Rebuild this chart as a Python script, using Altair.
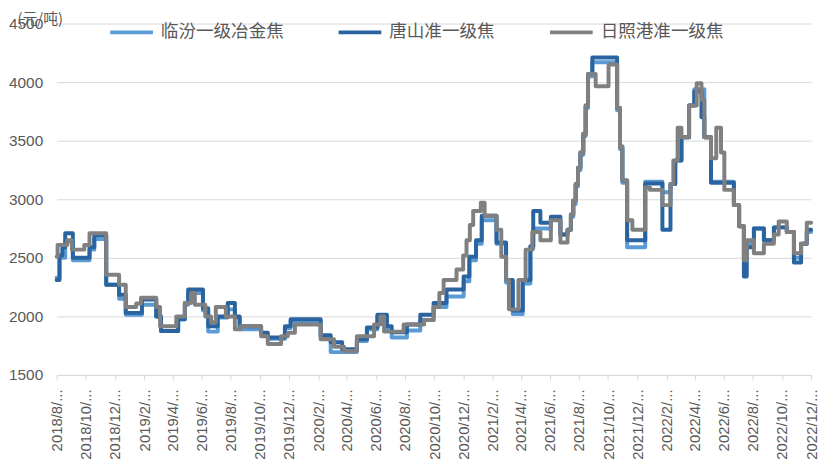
import altair as alt
import pandas as pd

series_names = ["临汾一级冶金焦", "唐山准一级焦", "日照港准一级焦"]
series_colors = ["#5b9bd5", "#2a64a0", "#808080"]

# 临汾一级冶金焦 (price change points)
linfen_dates = [
    "2018/08/01", "2018/08/07", "2018/08/19", "2018/09/04", "2018/10/09", "2018/10/19", "2018/11/13",
    "2018/12/10", "2018/12/24", "2019/01/27", "2019/02/26", "2019/03/08", "2019/04/13", "2019/04/27",
    "2019/05/04", "2019/06/04", "2019/06/15", "2019/07/05", "2019/07/26", "2019/08/10", "2019/08/20",
    "2019/10/04", "2019/10/18", "2019/11/23", "2019/12/05", "2020/02/06", "2020/02/27", "2020/04/22",
    "2020/05/13", "2020/06/04", "2020/06/24", "2020/07/04", "2020/08/05", "2020/09/02", "2020/09/30",
    "2020/10/27", "2020/12/02", "2020/12/14", "2020/12/28", "2021/01/09", "2021/02/09", "2021/03/01",
    "2021/03/15", "2021/04/05", "2021/04/21", "2021/04/27", "2021/06/03", "2021/06/23", "2021/07/08",
    "2021/07/15", "2021/07/20", "2021/07/25", "2021/07/30", "2021/08/04", "2021/08/10", "2021/08/15",
    "2021/08/20", "2021/08/29", "2021/10/20", "2021/10/26", "2021/10/31", "2021/11/10", "2021/12/18",
    "2022/01/23", "2022/02/09", "2022/02/19", "2022/03/04", "2022/03/20", "2022/03/31", "2022/04/21",
    "2022/05/05", "2022/06/22", "2022/07/03", "2022/07/13", "2022/07/19", "2022/08/03", "2022/08/24",
    "2022/09/14", "2022/10/11", "2022/10/26", "2022/11/10", "2022/11/22", "2022/12/01",
]
linfen_values = [
    2330, 2500, 2640, 2480, 2570, 2660, 2270,
    2150, 2015, 2100, 2000, 1875, 1975, 2100,
    2200, 2050, 1870, 1990, 2060, 1990, 1890,
    1850, 1810, 1900, 1960, 1820, 1695, 1790,
    1890, 2000, 1880, 1820, 1880, 1970, 2080,
    2170, 2300, 2480, 2620, 2820, 2620, 2290,
    2020, 2280, 2580, 2750, 2830, 2700, 2740,
    2850, 2960, 3110, 3250, 3380, 3540, 3780,
    4050, 4170, 3760, 3430, 3140, 2590, 3150,
    3060, 3130, 3330, 3530, 3800, 3940, 3530,
    3150, 2950, 2770, 2480, 2620, 2750, 2650,
    2760, 2720, 2500, 2620, 2720, 2720,
]

# 唐山准一级焦
tangshan_dates = [
    "2018/08/01", "2018/08/07", "2018/08/13", "2018/08/19", "2018/09/04", "2018/10/09", "2018/10/19",
    "2018/11/13", "2018/12/10", "2018/12/24", "2019/01/27", "2019/02/26", "2019/03/08", "2019/04/13",
    "2019/04/27", "2019/05/04", "2019/06/04", "2019/06/15", "2019/07/05", "2019/07/26", "2019/08/10",
    "2019/08/20", "2019/10/04", "2019/10/18", "2019/11/23", "2019/12/05", "2020/02/06", "2020/02/27",
    "2020/03/22", "2020/04/22", "2020/05/13", "2020/06/04", "2020/06/24", "2020/07/04", "2020/08/05",
    "2020/09/02", "2020/09/30", "2020/10/27", "2020/12/02", "2020/12/14", "2020/12/28", "2021/01/09",
    "2021/02/09", "2021/03/01", "2021/03/15", "2021/04/05", "2021/04/21", "2021/04/27", "2021/05/12",
    "2021/06/03", "2021/06/23", "2021/07/08", "2021/07/15", "2021/07/20", "2021/07/25", "2021/07/30",
    "2021/08/04", "2021/08/10", "2021/08/15", "2021/08/20", "2021/08/29", "2021/10/20", "2021/10/26",
    "2021/10/31", "2021/11/10", "2021/12/18", "2022/01/23", "2022/02/09", "2022/02/19", "2022/03/04",
    "2022/03/20", "2022/03/31", "2022/04/15", "2022/04/21", "2022/05/05", "2022/06/22", "2022/07/03",
    "2022/07/13", "2022/07/19", "2022/08/03", "2022/08/24", "2022/09/14", "2022/10/11", "2022/10/26",
    "2022/11/10", "2022/11/22", "2022/12/01",
]
tangshan_values = [
    2310, 2520, 2590, 2710, 2500, 2590, 2695,
    2270, 2185, 2030, 2145, 2000, 1875, 1975,
    2115, 2230, 2070, 1915, 2000, 2115, 2000,
    1915, 1860, 1820, 1915, 1975, 1840, 1780,
    1720, 1805, 1905, 2015, 1915, 1865, 1930,
    2015, 2115, 2230, 2340, 2510, 2650, 2860,
    2630, 2310, 2050, 2310, 2600, 2900, 2800,
    2850, 2700, 2740, 2870, 2990, 3130, 3270,
    3400, 3560, 3800, 4070, 4210, 3780, 3450,
    3160, 2650, 3135, 2740, 3130, 3330, 3530,
    3800, 3920, 3700, 3530, 3140, 2950, 2770,
    2340, 2590, 2750, 2650, 2760, 2720, 2460,
    2620, 2740, 2740,
]

# 日照港准一级焦
rizhao_dates = [
    "2018/08/01", "2018/08/03", "2018/08/23", "2018/09/02", "2018/09/28", "2018/10/09", "2018/11/13",
    "2018/12/10", "2018/12/24", "2019/01/15", "2019/01/25", "2019/02/26", "2019/03/06", "2019/04/09",
    "2019/04/27", "2019/05/10", "2019/05/18", "2019/06/09", "2019/06/21", "2019/07/01", "2019/07/22",
    "2019/08/10", "2019/08/22", "2019/10/04", "2019/10/18", "2019/11/15", "2019/11/29", "2019/12/14",
    "2020/02/06", "2020/03/05", "2020/03/26", "2020/04/22", "2020/05/28", "2020/06/10", "2020/06/18",
    "2020/07/29", "2020/09/10", "2020/09/30", "2020/10/12", "2020/10/21", "2020/11/17", "2020/12/01",
    "2020/12/08", "2020/12/15", "2020/12/22", "2021/01/07", "2021/01/15", "2021/02/09", "2021/02/19",
    "2021/03/01", "2021/03/07", "2021/03/27", "2021/04/11", "2021/04/25", "2021/05/12", "2021/06/03",
    "2021/06/23", "2021/07/08", "2021/07/15", "2021/07/20", "2021/07/25", "2021/07/30", "2021/08/04",
    "2021/08/10", "2021/08/15", "2021/08/20", "2021/09/05", "2021/10/02", "2021/10/20", "2021/10/26",
    "2021/10/31", "2021/11/10", "2021/11/21", "2021/12/18", "2021/12/28", "2022/01/23", "2022/02/09",
    "2022/02/15", "2022/02/24", "2022/03/04", "2022/03/20", "2022/04/05", "2022/04/15", "2022/04/21",
    "2022/05/05", "2022/05/16", "2022/05/26", "2022/06/02", "2022/06/22", "2022/07/03", "2022/07/13",
    "2022/07/19", "2022/08/03", "2022/08/24", "2022/09/14", "2022/09/24", "2022/10/11", "2022/10/26",
    "2022/11/10", "2022/11/22", "2022/12/01",
]
rizhao_values = [
    2510, 2610, 2650, 2570, 2610, 2710, 2355,
    2270, 2080, 2110, 2160, 2080, 1915, 2000,
    2115, 2200, 2100, 2000, 1950, 2080, 2000,
    1890, 1915, 1830, 1765, 1830, 1860, 1930,
    1805, 1740, 1705, 1830, 1930, 2000, 1870,
    1930, 1970, 2080, 2200, 2310, 2400, 2520,
    2650, 2780, 2900, 2970, 2860, 2740, 2510,
    2310, 2060, 2310, 2570, 2720, 2650, 2820,
    2630, 2740, 2870, 2990, 3130, 3270, 3400,
    3560, 3800, 4070, 3965, 4150, 3780, 3450,
    3160, 2820, 2740, 3100, 3080, 2950, 3130,
    3330, 3610, 3530, 3800, 3990, 3850, 3530,
    3350, 3610, 3400, 3080, 2950, 2770, 2480,
    2650, 2540, 2620, 2700, 2810, 2720, 2540,
    2620, 2800, 2800,
]

x_tick_dates = [
    "2018/08", "2018/10", "2018/12", "2019/02", "2019/04", "2019/06", "2019/08", "2019/10", "2019/12",
    "2020/02", "2020/04", "2020/06", "2020/08", "2020/10", "2020/12", "2021/02", "2021/04", "2021/06",
    "2021/08", "2021/10", "2021/12", "2022/02", "2022/04", "2022/06", "2022/08", "2022/10", "2022/12",
]
y_ticks = [1500, 2000, 2500, 3000, 3500, 4000, 4500]

frames = []
for name, dates, vals in [
    (series_names[0], linfen_dates, linfen_values),
    (series_names[1], tangshan_dates, tangshan_values),
    (series_names[2], rizhao_dates, rizhao_values),
]:
    frames.append(pd.DataFrame({"date": dates, "value": vals, "series": name}))
df = pd.concat(frames, ignore_index=True)


def dt(s):
    y, m = s.split("/")[:2]
    return alt.DateTime(year=int(y), month=int(m), date=1)


x_values = [dt(s) for s in x_tick_dates]
num_font = "Liberation Sans"
cjk_font = "Noto Sans CJK SC"
text_color = "#595959"

x_enc = alt.X(
    "date:T",
    scale=alt.Scale(domain=[dt("2018/08"), dt("2022/12")]),
    axis=alt.Axis(
        values=x_values,
        labelExpr="timeFormat(datum.value, '%Y/%-m/') + '...'",
        labelAngle=270,
        labelAlign="right",
        labelBaseline="middle",
        labelFont=num_font,
        labelFontSize=15,
        labelColor=text_color,
        labelPadding=9,
        labelOverlap=False,
        labelFlush=False,
        grid=False,
        domainColor="#d9d9d9",
        tickColor="#d9d9d9",
        tickSize=5,
        title=None,
    ),
)
y_enc = alt.Y(
    "value:Q",
    scale=alt.Scale(domain=[1500, 4500], nice=False, zero=False),
    axis=alt.Axis(
        values=y_ticks,
        format="d",
        labelFont=num_font,
        labelFontSize=15.5,
        labelColor=text_color,
        labelPadding=14,
        domain=False,
        ticks=False,
        tickSize=0,
        grid=True,
        gridColor="#d9d9d9",
        gridWidth=1,
        title="(元/吨)",
        titleAngle=0,
        titleAlign="left",
        titleBaseline="middle",
        titleX=-40,
        titleY=-5,
        titleFont=cjk_font,
        titleFontSize=15,
        titleFontWeight="normal",
        titleColor=text_color,
    ),
)
color_enc = alt.Color(
    "series:N",
    scale=alt.Scale(domain=series_names, range=series_colors),
    legend=alt.Legend(
        title=None,
        orient="none",
        direction="horizontal",
        legendX=52,
        legendY=-15,
        symbolType="stroke",
        symbolSize=1849,
        symbolStrokeWidth=4,
        labelFont=cjk_font,
        labelFontSize=17.7,
        labelColor=text_color,
        labelOffset=6,
        columnPadding=47,
        labelLimit=300,
    ),
)

layers = []
for name in series_names:
    layers.append(
        alt.Chart(df)
        .transform_filter(alt.datum.series == name)
        .mark_line(interpolate="step-after", strokeWidth=4, strokeJoin="round", strokeCap="round")
        .encode(x=x_enc, y=y_enc, color=color_enc)
    )

chart = (
    alt.layer(*layers)
    .properties(
        width=760,
        height=354,
        autosize=alt.AutoSizeParams(type="none"),
        padding={"left": 49, "top": 14, "right": 12, "bottom": 85},
    )
    .configure_view(stroke=None)
)

chart.save("out.html", embed_options={"renderer": "svg", "actions": False})
